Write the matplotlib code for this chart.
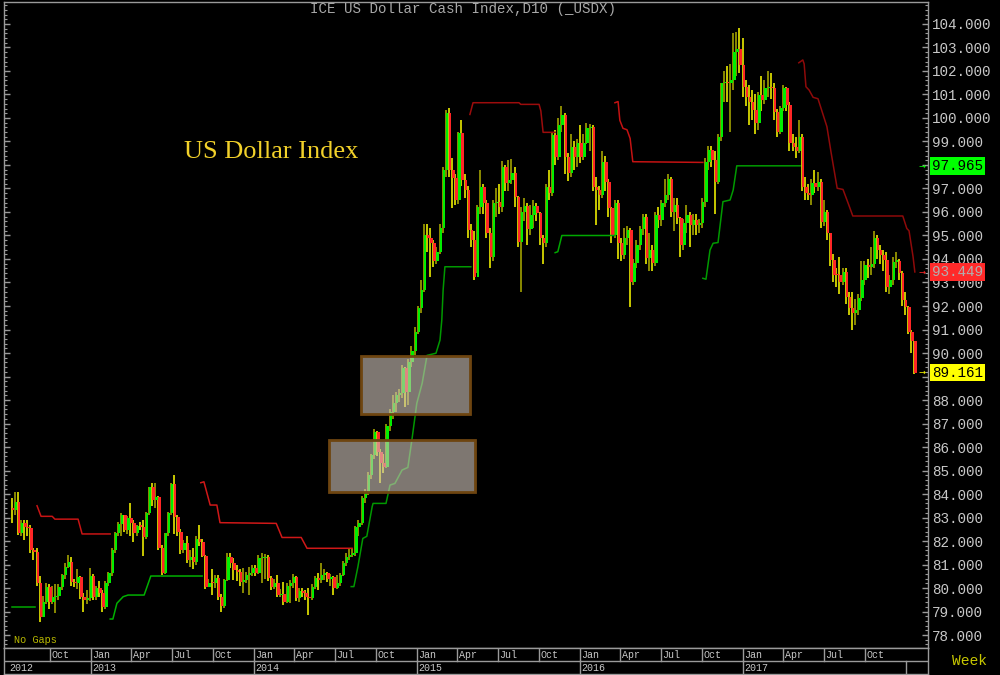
import numpy as np
import pandas as pd
import matplotlib
matplotlib.use('Agg')
import matplotlib.pyplot as plt
import matplotlib.dates as mdates
from matplotlib.ticker import MultipleLocator, FuncFormatter
from matplotlib.transforms import blended_transform_factory
from matplotlib.patches import Rectangle

plt.rcParams['font.family'] = ['Liberation Mono', 'DejaVu Sans']

# ---------------- data (weekly bars, "No Gaps": open = previous close) ----------------
first_week = '2012-07-09'
first_open = 83.40

closes = [
    83.32, 83.67, 82.32, 82.75, 82.61, 82.54, 81.62, 81.55, 80.20, 78.78,
    79.42, 80.06, 79.42, 79.63, 79.66, 80.06, 80.55, 80.91, 81.12, 80.27,
    80.20, 80.45, 79.63, 79.49, 79.56, 80.51, 79.60, 79.98, 79.77, 79.20,
    80.23, 80.62, 81.62, 82.32, 82.72, 83.11, 82.47, 82.96, 82.75, 82.32,
    82.64, 82.61, 82.18, 83.18, 84.28, 83.74, 83.89, 81.69, 80.62, 82.32,
    83.20, 84.42, 83.03, 82.40, 81.62, 81.93, 81.19, 81.30, 81.12, 82.07,
    81.97, 81.36, 80.06, 80.23, 80.20, 80.41, 79.63, 79.23, 80.34, 81.30,
    81.05,
    80.77, 80.70, 80.27, 80.34, 80.55, 80.62, 80.84, 80.65, 81.26, 81.26,
    81.33, 80.41, 80.06, 80.23, 79.70, 79.74, 79.42, 80.08, 80.20, 80.45,
    79.56, 79.89, 79.77, 79.63, 79.56, 80.06, 80.41, 80.34, 80.55, 80.62,
    80.37, 80.45, 79.98, 80.20, 80.55, 81.08, 81.30, 81.40, 81.47, 82.58,
    82.78, 83.82, 84.10, 84.81, 85.66, 86.65, 85.80, 85.30, 85.16, 86.89,
    87.50, 87.86, 88.21, 88.31, 89.35, 88.35, 89.63, 90.10, 90.90,
    91.90, 92.68, 95.02, 94.88, 94.67, 93.90, 94.31, 95.30, 97.79, 100.20,
    97.79, 97.43, 96.51, 99.35, 97.36, 96.93, 95.23, 94.81, 93.25, 96.22,
    97.08, 96.37, 95.09, 94.10, 96.37, 96.44, 96.22, 97.93, 97.22, 97.36,
    97.64, 96.65, 94.74, 96.01, 96.25, 95.26, 95.87, 96.25, 95.94, 94.88,
    94.67, 97.08, 96.79, 99.28, 98.35, 99.70, 100.13, 98.35, 97.64, 98.75,
    98.35, 98.92, 98.35, 98.92, 99.56, 99.60, 97.08, 96.93, 96.72, 98.14,
    97.29, 96.15, 95.02, 96.37, 94.67, 94.17, 94.90,
    95.25, 93.04, 93.82, 94.60, 95.26, 95.80, 94.03, 94.38, 93.82, 95.87,
    95.66, 96.37, 96.72, 97.39, 96.01, 96.30, 95.73, 94.60, 95.52, 95.87,
    95.45, 95.66, 95.45, 95.52, 96.44, 98.14, 98.64, 98.21, 97.29, 99.20,
    101.47, 101.55, 101.50, 101.62, 102.82, 102.94, 102.26, 101.33, 100.90, 100.70,
    100.34, 99.80, 100.98, 100.77, 101.26, 101.33, 101.26, 100.27, 99.42, 100.41,
    101.26, 100.55, 98.92, 98.78, 98.60, 99.20, 97.08, 96.80, 96.72, 97.22,
    97.08, 97.29, 95.59, 96.01, 95.09, 93.96, 93.32, 93.30, 93.04, 93.46,
    92.40, 91.90, 91.70, 91.83, 92.33, 93.11, 93.74, 93.67, 93.80, 94.88,
    94.38, 94.17, 93.96, 92.82, 93.10, 93.89, 93.90, 93.39, 92.26, 91.97,
    90.91, 90.50, 89.161,
]

highs = [
    83.81, 84.10, 84.10, 82.90, 82.90, 82.90, 82.70, 81.70, 81.70, 80.50,
    79.65, 80.20, 80.15, 80.10, 80.15, 80.15, 80.60, 81.05, 81.40, 81.30,
    80.40, 80.80, 80.50, 79.80, 79.90, 80.85, 80.60, 80.10, 80.30, 79.90,
    80.30, 80.70, 81.70, 82.40, 82.80, 83.20, 83.10, 83.05, 83.60, 82.90,
    82.70, 82.80, 82.90, 83.25, 84.30, 84.45, 84.45, 83.90, 81.85, 82.35,
    83.25, 84.45, 84.80, 83.10, 82.50, 82.05, 82.20, 81.60, 81.70, 82.20,
    82.70, 82.10, 81.40, 80.40, 80.80, 80.55, 80.55, 79.75, 80.40, 81.50,
    81.50,
    81.26, 81.00, 80.80, 80.84, 80.70, 80.90, 81.00, 81.00, 81.40, 81.50,
    81.45, 81.40, 80.50, 80.40, 80.55, 79.95, 80.27, 80.20, 80.34, 80.60,
    80.50, 80.00, 79.98, 79.90, 79.98, 80.15, 80.50, 80.62, 81.05, 80.80,
    80.70, 80.60, 80.50, 80.55, 80.65, 81.15, 81.50, 81.70, 81.69, 82.65,
    82.90, 83.90, 84.20, 84.95, 85.72, 86.75, 86.70, 85.90, 85.70, 87.00,
    87.60, 88.20, 88.35, 88.45, 89.50, 89.40, 89.75, 90.30, 91.10,
    92.00, 93.10, 95.50, 95.50, 95.30, 94.80, 94.50, 95.50, 97.90, 100.35,
    100.41, 98.30, 97.60, 99.40, 99.90, 97.60, 97.10, 95.50, 95.20, 96.30,
    97.80, 97.20, 96.50, 95.30, 96.50, 97.00, 97.20, 98.15, 98.00, 98.20,
    98.25, 97.90, 96.70, 96.20, 96.60, 96.40, 96.30, 96.50, 96.40, 96.00,
    95.00, 97.20, 97.80, 99.40, 99.50, 100.00, 100.50, 100.20, 98.50, 99.30,
    99.00, 99.10, 99.70, 99.30, 99.80, 99.75, 99.70, 97.50, 97.10, 98.60,
    98.40, 97.40, 96.20, 96.50, 96.50, 94.90, 95.30,
    95.40, 95.30, 94.00, 94.80, 95.40, 95.90, 95.90, 95.10, 94.60, 96.00,
    96.20, 96.50, 97.40, 97.60, 97.50, 96.60, 96.60, 95.80, 95.70, 96.30,
    96.00, 95.90, 95.90, 95.70, 96.60, 98.30, 98.80, 98.80, 98.60, 99.30,
    101.50, 102.00, 102.20, 102.30, 103.60, 103.67, 103.82, 103.40, 101.60, 101.40,
    101.20, 101.00, 101.10, 101.80, 101.60, 102.00, 101.90, 101.50, 100.40, 100.50,
    101.40, 101.30, 100.70, 99.30, 99.20, 99.90, 99.30, 97.50, 97.20, 97.40,
    97.80, 97.70, 97.40, 96.50, 96.10, 95.10, 94.20, 93.60, 94.10, 93.60,
    93.60, 92.60, 92.60, 92.30, 92.50, 93.90, 93.90, 94.00, 94.50, 95.20,
    95.00, 94.60, 94.40, 94.30, 93.30, 94.10, 94.30, 94.00, 93.50, 92.60,
    92.00, 91.00, 90.50,
]

lows = [
    82.75, 83.10, 82.25, 82.20, 82.05, 82.20, 81.50, 81.20, 80.10, 78.57,
    78.78, 79.30, 79.10, 79.30, 78.95, 79.50, 79.90, 80.40, 80.85, 80.10,
    80.05, 79.95, 79.55, 79.00, 79.30, 79.45, 79.50, 79.50, 79.60, 78.97,
    79.10, 80.10, 80.50, 81.50, 82.20, 82.20, 82.40, 82.30, 82.20, 81.97,
    82.20, 82.45, 81.35, 82.10, 83.10, 83.50, 83.40, 81.60, 80.55, 80.60,
    82.20, 83.10, 82.30, 82.20, 81.45, 81.50, 81.05, 80.90, 80.80, 81.00,
    81.80, 81.30, 79.95, 80.05, 79.70, 80.00, 79.50, 79.00, 79.15, 80.30,
    80.85,
    80.34, 80.30, 80.10, 79.77, 80.20, 79.70, 80.50, 80.50, 80.60, 80.20,
    80.40, 80.30, 79.90, 79.95, 79.63, 79.60, 79.28, 79.35, 79.35, 80.00,
    79.45, 79.40, 79.63, 79.50, 78.85, 79.50, 79.95, 79.90, 80.20, 80.35,
    80.25, 80.10, 79.70, 79.95, 80.10, 80.50, 80.95, 81.20, 81.33, 81.35,
    82.20, 82.70, 83.60, 83.95, 84.65, 85.50, 85.60, 84.45, 84.90, 85.10,
    86.70, 87.20, 87.50, 87.90, 88.10, 87.70, 87.80, 89.40, 89.90,
    90.80, 91.70, 92.60, 94.30, 93.25, 93.65, 93.80, 94.20, 95.10, 97.50,
    97.50, 96.15, 96.30, 96.35, 97.10, 96.60, 94.90, 94.50, 93.10, 93.40,
    95.90, 95.90, 94.90, 93.60, 93.90, 95.80, 95.90, 96.00, 96.90, 96.90,
    97.20, 96.20, 94.50, 92.60, 95.60, 94.60, 95.00, 95.30, 95.60, 94.60,
    93.80, 94.50, 96.50, 96.70, 98.00, 98.20, 99.40, 97.60, 97.30, 97.50,
    97.80, 97.90, 98.10, 98.20, 98.90, 98.60, 96.90, 95.45, 96.10, 96.60,
    96.90, 95.80, 94.70, 94.90, 94.00, 93.90, 94.00,
    94.60, 91.97, 92.90, 93.60, 94.40, 95.00, 93.80, 93.50, 93.50, 93.70,
    95.30, 95.40, 96.20, 96.50, 95.80, 95.20, 95.50, 94.10, 94.40, 95.10,
    94.50, 95.00, 95.00, 95.10, 95.30, 96.20, 97.80, 97.90, 95.90, 97.20,
    99.00, 100.70, 100.70, 99.40, 101.20, 101.80, 101.90, 100.90, 100.50, 99.70,
    99.90, 99.30, 99.50, 100.30, 100.60, 100.90, 100.80, 99.90, 99.20, 99.30,
    100.30, 100.30, 98.60, 98.60, 98.30, 98.50, 96.90, 96.50, 96.50, 96.30,
    96.80, 96.90, 95.30, 95.40, 94.80, 93.70, 93.00, 92.80, 92.50, 92.90,
    92.10, 91.60, 91.00, 91.20, 91.60, 92.20, 92.90, 93.20, 93.30, 93.60,
    94.00, 93.80, 93.50, 92.60, 92.50, 92.90, 93.60, 93.10, 92.00, 91.60,
    90.80, 90.00, 89.10,
]

# trailing stop lines (date, level); red = upper stop, green = lower stop
red_stops = [
    [('2012-09-02', 83.50), ('2012-09-11', 83.05), ('2012-10-06', 83.05), ('2012-10-12', 82.93),
     ('2012-12-03', 82.93), ('2012-12-12', 82.30), ('2013-02-13', 82.30)],
    [('2013-09-04', 84.48), ('2013-09-11', 84.52), ('2013-09-25', 83.53), ('2013-10-10', 83.53),
     ('2013-10-17', 82.78), ('2014-02-20', 82.75), ('2014-03-05', 82.15), ('2014-04-17', 82.15),
     ('2014-04-30', 81.69), ('2014-08-09', 81.69)],
    [('2015-04-30', 100.15), ('2015-05-07', 100.65), ('2015-08-18', 100.65), ('2015-08-22', 100.58),
     ('2015-10-02', 100.58), ('2015-10-06', 100.30), ('2015-10-11', 99.39), ('2015-11-07', 99.39)],
    [('2016-03-20', 100.65), ('2016-03-27', 100.70), ('2016-03-31', 99.90), ('2016-04-07', 99.56),
     ('2016-04-16', 99.50), ('2016-04-23', 99.13), ('2016-04-29', 98.14), ('2016-10-03', 98.11)],
    [('2017-05-06', 102.35), ('2017-05-15', 102.47), ('2017-05-18', 102.30), ('2017-05-22', 101.33),
     ('2017-05-29', 101.19), ('2017-06-07', 100.88), ('2017-06-18', 100.82), ('2017-07-08', 99.63),
     ('2017-07-17', 98.57), ('2017-07-31', 97.01), ('2017-08-13', 96.96), ('2017-08-26', 96.30),
     ('2017-09-04', 95.83), ('2017-12-25', 95.83), ('2018-01-03', 95.30), ('2018-01-08', 95.20),
     ('2018-01-17', 94.10), ('2018-01-21', 93.449)],
]
red_colors = ['#c81414', '#d01818', '#9c0c0c', '#c41212', '#8e0a0a']

green_stops = [
    [('2012-07-09', 79.20), ('2012-08-29', 79.20)],
    [('2013-02-13', 78.68), ('2013-02-19', 78.68), ('2013-02-28', 79.35), ('2013-03-14', 79.63),
     ('2013-03-25', 79.70), ('2013-04-30', 79.70), ('2013-05-15', 80.51), ('2013-09-07', 80.51)],
    [('2014-08-07', 80.06), ('2014-08-13', 80.06), ('2014-08-22', 80.90), ('2014-09-02', 82.11),
     ('2014-09-11', 82.20), ('2014-09-23', 83.46), ('2014-09-25', 83.60), ('2014-10-24', 83.60),
     ('2014-11-02', 84.38), ('2014-11-13', 84.45), ('2014-11-29', 85.02), ('2014-12-12', 85.13),
     ('2014-12-21', 86.30), ('2015-01-01', 87.86), ('2015-01-13', 88.71), ('2015-01-24', 89.90),
     ('2015-02-13', 89.99), ('2015-02-22', 90.55), ('2015-02-26', 91.40), ('2015-03-01', 92.68),
     ('2015-03-05', 93.67), ('2015-05-02', 93.67)],
    [('2015-11-07', 94.27), ('2015-11-13', 94.31), ('2015-11-22', 95.00), ('2016-03-20', 95.00)],
    [('2016-10-03', 93.18), ('2016-10-10', 93.14), ('2016-10-19', 94.38), ('2016-10-26', 94.67),
     ('2016-11-06', 94.70), ('2016-11-17', 96.44), ('2016-12-03', 96.51), ('2016-12-10', 96.94),
     ('2016-12-18', 97.965), ('2017-05-09', 97.965)],
]
green_colors = ['#00a800', '#00b000', '#009800', '#00a800', '#009a00']

# highlighted zones (start, end, low, high)
zones = [
    ('2014-08-29', '2015-04-30', 87.40, 89.87),
    ('2014-06-19', '2015-05-12', 84.09, 86.30),
]

# last values shown on the price scale
last_labels = [
    (97.965, '97.965', '#00ff00', '#000000'),
    (93.449, '93.449', '#ff2a2a', '#b0b0b0'),
    (89.161, '89.161', '#ffff00', '#000000'),
]

month_names = {1: 'Jan', 4: 'Apr', 7: 'Jul', 10: 'Oct'}
quarter_starts = pd.date_range('2012-10-01', '2017-10-01', freq='QS')
year_starts = pd.date_range('2013-01-01', '2018-01-01', freq='YS')

# ---------------- figure ----------------
W, H = 1000, 675
fig = plt.figure(figsize=(W / 100, H / 100), dpi=100, facecolor='black')
ax = fig.add_axes([4 / W, 27 / H, 924 / W, 646 / H])
ax.set_facecolor('black')
xlim = (mdates.date2num(pd.Timestamp('2012-06-20')), mdates.date2num(pd.Timestamp('2018-02-19 12:00')))
ax.set_xlim(*xlim)
ax.set_ylim(77.447, 104.936)

dates = pd.date_range(first_week, periods=len(closes), freq='7D')
xd = mdates.date2num(dates)
c = np.array(closes)
o = np.r_[first_open, c[:-1]]
hi = np.array(highs)
lo = np.array(lows)
up = c >= o

wick_cols = np.where(up, '#8a8a00', '#c8c800')
ax.vlines(xd - 1.9, lo, hi, colors=wick_cols, linewidth=1.4, zorder=2)
body_cols = np.where(up, '#00ee00', '#ff2626')
ax.bar(xd + 0.8, np.maximum(np.abs(c - o), 0.05), bottom=np.minimum(c, o), width=5.4,
       color=body_cols, linewidth=0, zorder=3)

for seg, col in zip(red_stops, red_colors):
    d = mdates.date2num(pd.to_datetime([p[0] for p in seg]))
    ax.plot(d, [p[1] for p in seg], color=col, lw=1.1, zorder=4)
for seg, col in zip(green_stops, green_colors):
    d = mdates.date2num(pd.to_datetime([p[0] for p in seg]))
    ax.plot(d, [p[1] for p in seg], color=col, lw=1.1, zorder=4)

for s, e, y0, y1 in zones:
    x0 = mdates.date2num(pd.Timestamp(s))
    x1 = mdates.date2num(pd.Timestamp(e))
    ax.add_patch(Rectangle((x0, y0), x1 - x0, y1 - y0, facecolor=(0.80, 0.76, 0.72, 0.62),
                           edgecolor='#6e4510', lw=2, zorder=5))

# axes styling
for sp in ax.spines.values():
    sp.set_color('#9a9a9a')
    sp.set_linewidth(1)
ax.tick_params(axis='x', bottom=False, labelbottom=False)
ax.yaxis.set_ticks_position('both')
ax.yaxis.set_major_locator(MultipleLocator(1))
ax.yaxis.set_minor_locator(MultipleLocator(0.2))


def price_fmt(v, pos):
    # the scale hides a level label that sits under a last-value box
    for val, _, _, _ in last_labels:
        if abs(v - val) < 0.2:
            return ''
    return '%.3f' % v


ax.yaxis.set_major_formatter(FuncFormatter(price_fmt))
ax.tick_params(axis='y', which='major', direction='in', length=4, width=1, colors='#9a9a9a',
               labelcolor='#c8c8c8', labelsize=10.3, pad=3, labelleft=False, labelright=True)
ax.tick_params(axis='y', which='minor', direction='in', length=2, width=0.8, colors='#9a9a9a')

trans = blended_transform_factory(ax.transAxes, ax.transData)
for val, txt, bg, fg in last_labels:
    ax.text(1.0043, val, txt, transform=trans, ha='left', va='center', fontsize=10.3,
            color=fg, clip_on=False, zorder=10,
            bbox=dict(boxstyle='square,pad=0.12', facecolor=bg, edgecolor='none'))
    ax.text(0.9935, val, '\u2192', transform=trans, ha='center', va='center', fontsize=6,
            color=bg, family='DejaVu Sans', clip_on=False, zorder=10)

# bottom time band
bax = fig.add_axes([4 / W, 1 / H, 924 / W, 26 / H])
bax.set_facecolor('black')
bax.set_xlim(*xlim)
bax.set_ylim(0, 2)
bax.set_xticks([])
bax.set_yticks([])
for sp in bax.spines.values():
    sp.set_color('#9a9a9a')
    sp.set_linewidth(1)
bax.axhline(1, color='#9a9a9a', lw=1)
for q in quarter_starts:
    xq = mdates.date2num(q)
    bax.plot([xq, xq], [1, 2], color='#9a9a9a', lw=1)
    bax.text(xq + 3.5, 1.48, month_names[q.month], ha='left', va='center', fontsize=7.2,
             color='#c8c8c8')
for yst in year_starts:
    xy = mdates.date2num(yst)
    bax.plot([xy, xy], [0, 1], color='#9a9a9a', lw=1)
    if xy + 60 < xlim[1]:
        bax.text(xy + 3.5, 0.48, str(yst.year), ha='left', va='center', fontsize=7.2,
                 color='#c8c8c8')
bax.text(xlim[0] + 13, 0.48, '2012', ha='left', va='center', fontsize=7.2, color='#c8c8c8')

# texts
fig.text(463 / W, 1 - 9 / H, 'ICE US Dollar Cash Index,D10 (_USDX)', ha='center', va='center',
         color='#a8a8a8', fontsize=10.2)
fig.text(271 / W, 1 - 152 / H, 'US Dollar Index', ha='center', va='center',
         color='#f2d12a', fontsize=19, family='Liberation Serif')
fig.text(14 / W, 1 - 640 / H, 'No Gaps', ha='left', va='center', color='#b8b800', fontsize=7.4)
fig.text(969 / W, 1 - 661 / H, 'Week', ha='center', va='center', color='#c8c800', fontsize=10.5)

fig.savefig('out.png', dpi=100, facecolor='black')
